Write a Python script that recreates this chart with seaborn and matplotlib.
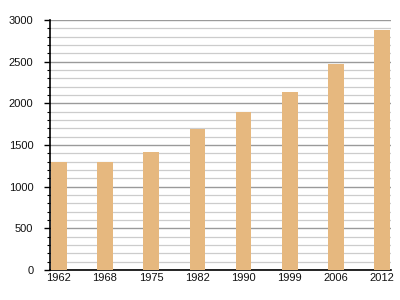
import matplotlib
matplotlib.use("Agg")
import matplotlib.pyplot as plt
import seaborn as sns
import pandas as pd
from matplotlib.ticker import MultipleLocator

years = ["1962", "1968", "1975", "1982", "1990", "1999", "2006", "2012"]
population = [1296, 1296, 1420, 1688, 1896, 2136, 2472, 2880]

df = pd.DataFrame({"year": years, "population": population})

sns.set_style("white")
plt.rcParams['font.family'] = ['Liberation Sans', 'DejaVu Sans']

fig = plt.figure(figsize=(4, 3), dpi=100)
ax = fig.add_axes([0.125, 0.1, 0.8525, 0.8333])

sns.barplot(data=df, x="year", y="population", color="#E6B87F", width=0.34,
            saturation=1, linewidth=0, edgecolor="none", ax=ax, zorder=3)

ax.set_ylim(0, 3000)
ax.set_xlim(-0.19, 7.19)
ax.yaxis.set_major_locator(MultipleLocator(500))
ax.yaxis.set_minor_locator(MultipleLocator(100))
ax.grid(which="major", axis="y", color="#9a9a9a", linewidth=1.0, zorder=0)
ax.grid(which="minor", axis="y", color="#cccccc", linewidth=0.9, zorder=0)
ax.set_axisbelow(True)

for s in ["top", "right"]:
    ax.spines[s].set_visible(False)
for s in ["left", "bottom"]:
    ax.spines[s].set_color("black")
    ax.spines[s].set_linewidth(1.2)

ax.tick_params(axis="y", which="major", length=4, width=1, color="black",
               labelsize=8, pad=8, left=True, labelcolor="#111111")
ax.tick_params(axis="y", which="minor", length=2.5, width=0.8, color="black", left=True)
ax.tick_params(axis="x", length=0, labelsize=8, pad=2, labelcolor="#111111")
ax.set_xlabel("")
ax.set_ylabel("")

fig.savefig("out.png", dpi=100)
